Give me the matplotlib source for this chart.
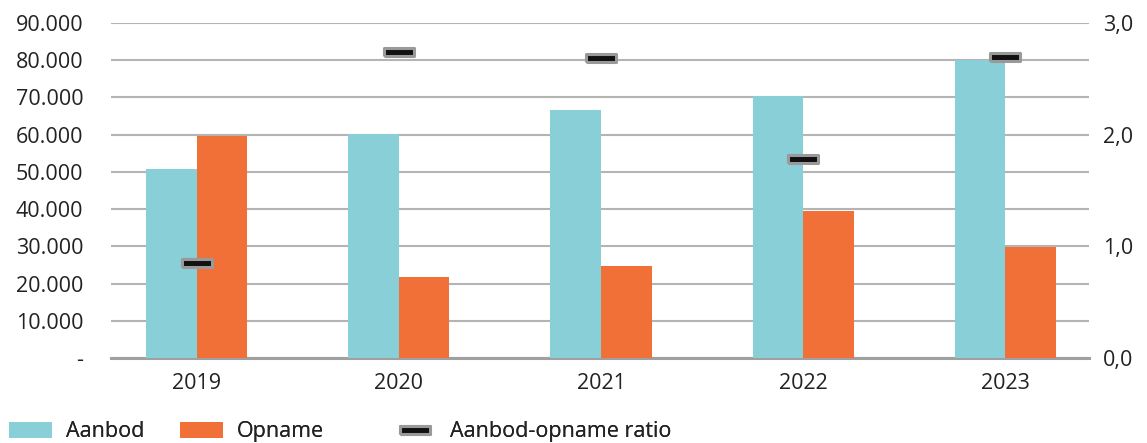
import matplotlib.pyplot as plt
from matplotlib.lines import Line2D
from matplotlib.patches import Patch
import numpy as np

plt.rcParams["font.family"] = ["Open Sans", "DejaVu Sans"]

years = ["2019", "2020", "2021", "2022", "2023"]
aanbod = [50800, 60200, 66600, 70400, 80100]
opname = [59600, 21800, 24700, 39500, 29800]
ratio = [0.85, 2.74, 2.69, 1.78, 2.70]

left_ticks = [0, 10000, 20000, 30000, 40000, 50000, 60000, 70000, 80000, 90000]
left_labels = ["-", "10.000", "20.000", "30.000", "40.000", "50.000",
               "60.000", "70.000", "80.000", "90.000"]
right_ticks = [0, 1, 2, 3]
right_labels = ["0,0", "1,0", "2,0", "3,0"]

c_aanbod = "#88cfd8"
c_opname = "#f07038"
c_grid = "#b4b4b4"
c_text = "#222222"
fs = 15.5

fig = plt.figure(figsize=(11.47, 4.43), dpi=100)
ax = fig.add_axes([0.0968, 0.192, 0.8526, 0.756])
ax2 = ax.twinx()

x = np.arange(len(years))
w = 0.25
ax.bar(x - w / 2, aanbod, width=w, color=c_aanbod, zorder=3)
ax.bar(x + w / 2, opname, width=w, color=c_opname, zorder=3)

ax.set_ylim(0, 90000)
ax.set_xlim(-0.425, 4.415)
ax.set_yticks(left_ticks)
ax.set_yticklabels(left_labels)
ax.set_xticks(x)
ax.set_xticklabels(years)
ax.yaxis.grid(True, color=c_grid, linewidth=1.5, zorder=0)
ax.set_axisbelow(True)
for s in ["top", "left", "right"]:
    ax.spines[s].set_visible(False)
ax.spines["bottom"].set_color("#a0a0a0")
ax.spines["bottom"].set_linewidth(2.2)
ax.tick_params(axis="both", length=0, labelsize=fs, colors=c_text)
ax.tick_params(axis="y", pad=20)
ax.tick_params(axis="x", pad=11)

# ratio markers: black bar with grey border
bar_marker = [(-2, -0.5), (2, -0.5), (2, 0.5), (-2, 0.5), (-2, -0.5)]
marker_style = dict(linestyle="none", marker=bar_marker, markersize=22,
                    markerfacecolor="#111111", markeredgecolor="#999999",
                    markeredgewidth=2.2)
ax2.plot(x, ratio, zorder=5, **marker_style)
ax2.set_ylim(0, 3)
ax2.set_yticks(right_ticks)
ax2.set_yticklabels(right_labels)
for s in ax2.spines.values():
    s.set_visible(False)
ax2.tick_params(axis="y", length=0, labelsize=fs, colors=c_text, pad=10)

# legend entries placed one by one along the bottom edge
entries = [
    (Patch(facecolor=c_aanbod, label="Aanbod"), 0.0078),
    (Patch(facecolor=c_opname, label="Opname"), 0.157),
    (Line2D([], [], label="Aanbod-opname ratio", **marker_style), 0.343),
]
for handle, xpos in entries:
    leg = fig.legend(handles=[handle], loc="center left",
                     bbox_to_anchor=(xpos, 0.025), frameon=False,
                     fontsize=fs, handlelength=2.0, handleheight=0.8,
                     handletextpad=0.65, borderaxespad=0, borderpad=0,
                     labelcolor=c_text)
    fig.add_artist(leg)

fig.savefig("out.png", dpi=100)
